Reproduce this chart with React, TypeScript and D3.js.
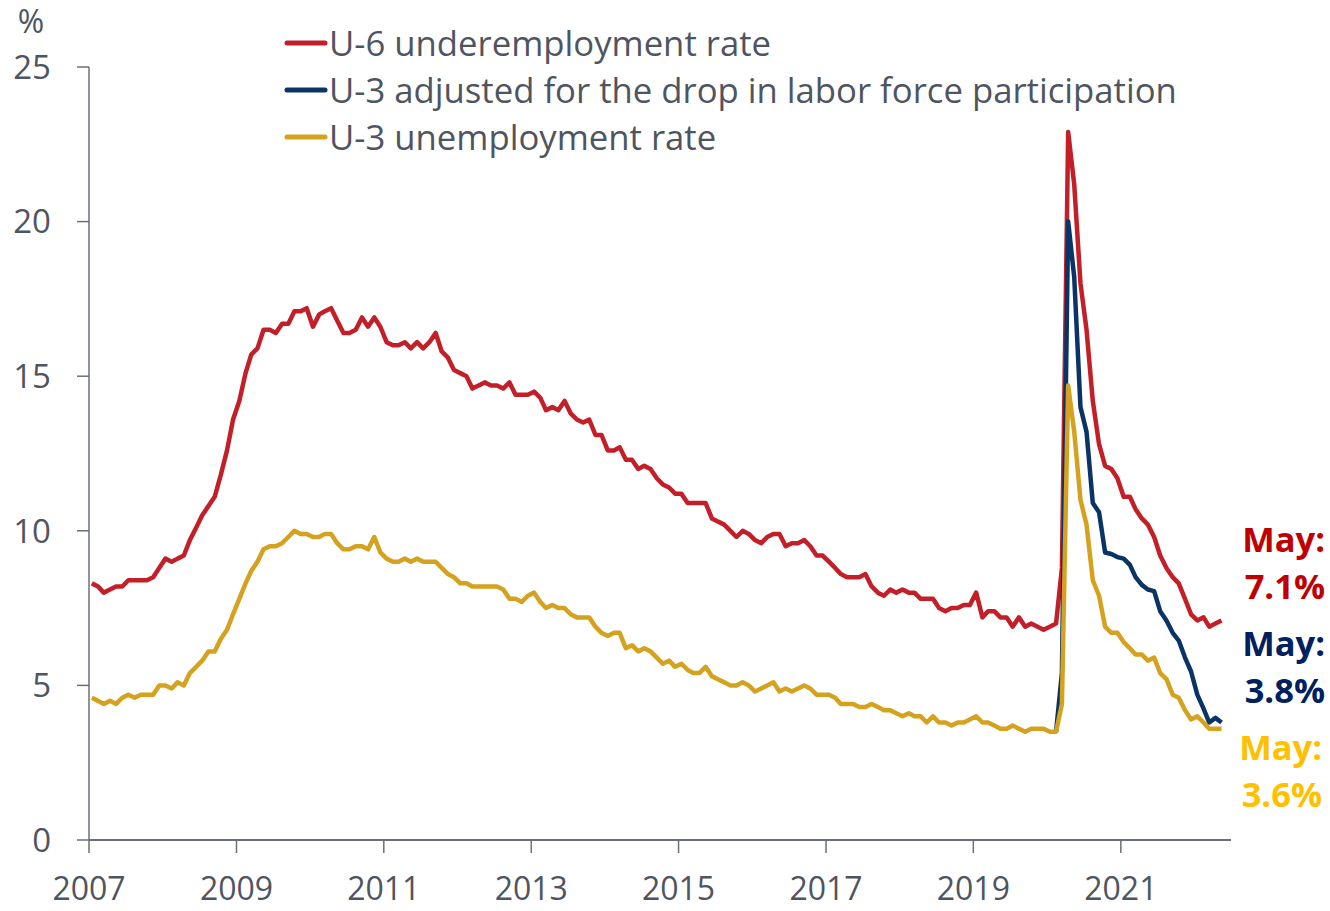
import React from "react";
import * as d3 from "d3";

// Monthly data, Jan 2007 – May 2022
const startYear = 2007;
const u6: number[] = [
  8.3, 8.2, 8.0, 8.1, 8.2, 8.2, 8.4, 8.4, 8.4, 8.4, 8.5, 8.8,
  9.1, 9.0, 9.1, 9.2, 9.7, 10.1, 10.5, 10.8, 11.1, 11.8, 12.6, 13.6,
  14.2, 15.1, 15.7, 15.9, 16.5, 16.5, 16.4, 16.7, 16.7, 17.1, 17.1, 17.2,
  16.6, 17.0, 17.1, 17.2, 16.8, 16.4, 16.4, 16.5, 16.9, 16.6, 16.9, 16.6,
  16.1, 16.0, 16.0, 16.1, 15.9, 16.1, 15.9, 16.1, 16.4, 15.8, 15.6, 15.2,
  15.1, 15.0, 14.6, 14.7, 14.8, 14.7, 14.7, 14.6, 14.8, 14.4, 14.4, 14.4,
  14.5, 14.3, 13.9, 14.0, 13.9, 14.2, 13.8, 13.6, 13.5, 13.6, 13.1, 13.1,
  12.6, 12.6, 12.7, 12.3, 12.3, 12.0, 12.1, 12.0, 11.7, 11.5, 11.4, 11.2,
  11.2, 10.9, 10.9, 10.9, 10.9, 10.4, 10.3, 10.2, 10.0, 9.8, 10.0, 9.9,
  9.7, 9.6, 9.8, 9.9, 9.9, 9.5, 9.6, 9.6, 9.7, 9.5, 9.2, 9.2,
  9.0, 8.8, 8.6, 8.5, 8.5, 8.5, 8.6, 8.2, 8.0, 7.9, 8.1, 8.0,
  8.1, 8.0, 8.0, 7.8, 7.8, 7.8, 7.5, 7.4, 7.5, 7.5, 7.6, 7.6,
  8.0, 7.2, 7.4, 7.4, 7.2, 7.2, 6.9, 7.2, 6.9, 7.0, 6.9, 6.8,
  6.9, 7.0, 8.8, 22.9, 21.2, 18.0, 16.5, 14.2, 12.8, 12.1, 12.0, 11.7,
  11.1, 11.1, 10.7, 10.4, 10.2, 9.8, 9.2, 8.8, 8.5, 8.3, 7.8, 7.3,
  7.1, 7.2, 6.9, 7.0, 7.1,
];
const u3: number[] = [
  4.6, 4.5, 4.4, 4.5, 4.4, 4.6, 4.7, 4.6, 4.7, 4.7, 4.7, 5.0,
  5.0, 4.9, 5.1, 5.0, 5.4, 5.6, 5.8, 6.1, 6.1, 6.5, 6.8, 7.3,
  7.8, 8.3, 8.7, 9.0, 9.4, 9.5, 9.5, 9.6, 9.8, 10.0, 9.9, 9.9,
  9.8, 9.8, 9.9, 9.9, 9.6, 9.4, 9.4, 9.5, 9.5, 9.4, 9.8, 9.3,
  9.1, 9.0, 9.0, 9.1, 9.0, 9.1, 9.0, 9.0, 9.0, 8.8, 8.6, 8.5,
  8.3, 8.3, 8.2, 8.2, 8.2, 8.2, 8.2, 8.1, 7.8, 7.8, 7.7, 7.9,
  8.0, 7.7, 7.5, 7.6, 7.5, 7.5, 7.3, 7.2, 7.2, 7.2, 6.9, 6.7,
  6.6, 6.7, 6.7, 6.2, 6.3, 6.1, 6.2, 6.1, 5.9, 5.7, 5.8, 5.6,
  5.7, 5.5, 5.4, 5.4, 5.6, 5.3, 5.2, 5.1, 5.0, 5.0, 5.1, 5.0,
  4.8, 4.9, 5.0, 5.1, 4.8, 4.9, 4.8, 4.9, 5.0, 4.9, 4.7, 4.7,
  4.7, 4.6, 4.4, 4.4, 4.4, 4.3, 4.3, 4.4, 4.3, 4.2, 4.2, 4.1,
  4.0, 4.1, 4.0, 4.0, 3.8, 4.0, 3.8, 3.8, 3.7, 3.8, 3.8, 3.9,
  4.0, 3.8, 3.8, 3.7, 3.6, 3.6, 3.7, 3.6, 3.5, 3.6, 3.6, 3.6,
  3.5, 3.5, 4.4, 14.7, 13.2, 11.0, 10.2, 8.4, 7.9, 6.9, 6.7, 6.7,
  6.4, 6.2, 6.0, 6.0, 5.8, 5.9, 5.4, 5.2, 4.7, 4.6, 4.2, 3.9,
  4.0, 3.8, 3.6, 3.6, 3.6,
];
// Adjusted U-3, from Feb 2020 (month index 157) to May 2022
const u3AdjStart = 157;
const u3Adj: number[] = [
  3.5, 5.4, 20.0, 18.2, 14.0, 13.2, 10.9, 10.6, 9.3, 9.25, 9.15,
  9.1, 8.9, 8.5, 8.25, 8.1, 8.05, 7.4, 7.1, 6.7, 6.45, 5.9, 5.45,
  4.7, 4.25, 3.8, 3.95, 3.8,
];
const yTicks = [0, 5, 10, 15, 20, 25];
const xTickYears = [2007, 2009, 2011, 2013, 2015, 2017, 2019, 2021];
const legendLabels = [
  "U-6 underemployment rate",
  "U-3 adjusted for the drop in labor force participation",
  "U-3 unemployment rate",
];
const endLabels = [
  ["May:", "7.1%"],
  ["May:", "3.8%"],
  ["May:", "3.6%"],
];

const lineColors = ["#c21f28", "#0a3466", "#d4a21f"];
const labelColors = ["#c00000", "#002060", "#ffc000"];
const axisColor = "#6b6f78";
const textColor = "#4f5560";
const FONT = "'Open Sans', 'Noto Sans', sans-serif";

type Pt = { d: Date; v: number };
const toPts = (arr: number[], offset = 0): Pt[] =>
  arr.map((v, i) => {
    const m = i + offset;
    return { d: new Date(startYear + Math.floor(m / 12), m % 12, 15), v };
  });

export default function App() {
  const W = 1330;
  const H = 911;
  const x = d3
    .scaleTime()
    .domain([new Date(2007, 0, 1), new Date(2022, 6, 1)])
    .range([89, 1231]);
  const y = d3.scaleLinear().domain([0, 25]).range([840, 67]);
  const line = d3
    .line<Pt>()
    .x((p) => x(p.d))
    .y((p) => y(p.v));

  const series = [toPts(u6), toPts(u3Adj, u3AdjStart), toPts(u3)];
  const endRight = [1325, 1325, 1322];

  return (
    <svg
      width={W}
      height={H}
      style={{ position: "absolute", left: 0, top: 0, background: "#fff" }}
      fontFamily={FONT}
    >
      {/* y axis */}
      <line x1={89} x2={89} y1={y(25)} y2={y(0)} stroke={axisColor} strokeWidth={1.5} />
      {yTicks.map((t) => (
        <g key={t}>
          <line x1={77} x2={89} y1={y(t)} y2={y(t)} stroke={axisColor} strokeWidth={1.5} />
          <text x={51} y={y(t)} dy="0.36em" textAnchor="end" fontSize={33} fill={textColor}>
            {t}
          </text>
        </g>
      ))}
      <text x={31} y={21} dy="0.36em" textAnchor="middle" fontSize={32} fill={textColor}>
        %
      </text>
      {/* x axis */}
      <line x1={89} x2={1231} y1={y(0)} y2={y(0)} stroke={axisColor} strokeWidth={2} />
      {xTickYears.map((yr) => (
        <g key={yr}>
          <line
            x1={x(new Date(yr, 0, 1))}
            x2={x(new Date(yr, 0, 1))}
            y1={840}
            y2={853}
            stroke={axisColor}
            strokeWidth={1.5}
          />
          <text
            x={x(new Date(yr, 0, 1))}
            y={888}
            dy="0.36em"
            textAnchor="middle"
            fontSize={32}
            fill={textColor}
          >
            {yr}
          </text>
        </g>
      ))}
      {/* lines */}
      {series.map((s, i) => (
        <path
          key={i}
          d={line(s) || ""}
          fill="none"
          stroke={lineColors[i]}
          strokeWidth={4.5}
          strokeLinejoin="round"
        />
      ))}
      {/* legend */}
      {legendLabels.map((l, i) => (
        <g key={l} transform={`translate(0, ${43 + i * 47})`}>
          <line x1={287} x2={325} y1={0} y2={0} stroke={lineColors[i]} strokeWidth={5} strokeLinecap="round" />
          <text x={329} y={0} dy="0.36em" fontSize={34.7} fill={textColor}>
            {l}
          </text>
        </g>
      ))}
      {/* end labels */}
      {endLabels.map((pair, i) => (
        <g key={i}>
          {pair.map((t, j) => (
            <text
              key={j}
              x={endRight[i]}
              y={540 + i * 104 + j * 47}
              dy="0.36em"
              textAnchor="end"
              fontSize={34.5}
              fontWeight="bold"
              fill={labelColors[i]}
            >
              {t}
            </text>
          ))}
        </g>
      ))}
    </svg>
  );
}
